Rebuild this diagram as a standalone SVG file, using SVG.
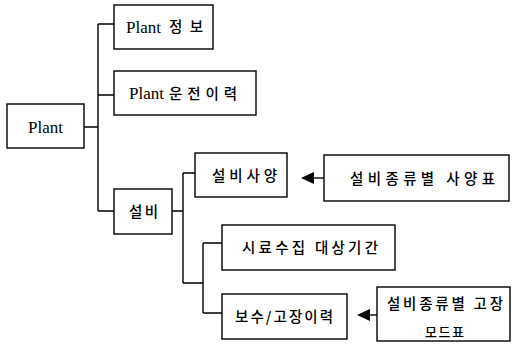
<svg xmlns="http://www.w3.org/2000/svg" width="512" height="351" viewBox="0 0 512 351">
  <style>
    .box { fill: #fff; stroke: #000; stroke-width: 1.4; }
    .wire { fill: none; stroke: #000; stroke-width: 1.4; }
    .lbl { font-family: "Liberation Serif", "Noto Sans CJK KR", serif; font-size: 17px; fill: #000; }
    .ko { font-family: "Noto Sans CJK KR", sans-serif; font-size: 14.5px; font-weight: 500; fill: #000; }
    .sm { font-size: 13px; }
  </style>
  <rect width="512" height="351" fill="#fff"/>

  <!-- tree connectors -->
  <g id="connectors">
    <path class="wire" d="M84 127 H98 M98 24 V211 M98 24 H114 M98 95 H114 M98 211 H114"/>
    <path class="wire" d="M172 211 H183 M183 173 V283 M183 173 H195 M183 283 H203"/>
    <path class="wire" d="M203 243 V313 M203 243 H222 M203 313 H222"/>
    <!-- feed arrows from the reference tables -->
    <path class="wire" d="M313 178 H324"/>
    <polygon points="301,178 314,172 314,184" fill="#000"/>
    <path class="wire" d="M369 315 H377"/>
    <polygon points="357,315 370,309 370,321" fill="#000"/>
  </g>

  <g id="plant">
    <rect class="box" x="7" y="104" width="77" height="44"/>
    <text class="lbl" x="28" y="133" textLength="35" lengthAdjust="spacingAndGlyphs">Plant</text>
  </g>

  <g id="plant-info">
    <rect class="box" x="114" y="5" width="99" height="44"/>
    <text class="lbl" x="126" y="33" textLength="35" lengthAdjust="spacingAndGlyphs">Plant</text>
    <text class="ko" x="169" y="32" textLength="34" lengthAdjust="spacing">정보</text>
  </g>

  <g id="plant-history">
    <rect class="box" x="114" y="71" width="142" height="44"/>
    <text class="lbl" x="129" y="99" textLength="35" lengthAdjust="spacingAndGlyphs">Plant</text>
    <text class="ko" x="169" y="99" textLength="68" lengthAdjust="spacing">운전이력</text>
  </g>

  <g id="equipment">
    <rect class="box" x="114" y="189" width="58" height="45"/>
    <text class="ko" x="129" y="217" textLength="29" lengthAdjust="spacing">설비</text>
  </g>

  <g id="equipment-spec">
    <rect class="box" x="195" y="153" width="92" height="44"/>
    <text class="ko" x="212" y="181" textLength="65" lengthAdjust="spacing">설비사양</text>
  </g>

  <g id="spec-table">
    <rect class="box" x="324" y="155" width="185" height="46"/>
    <text class="ko" x="350" y="184" textLength="145" lengthAdjust="spacing">설비종류별 사양표</text>
  </g>

  <g id="sampling-period">
    <rect class="box" x="222" y="225" width="173" height="45"/>
    <text class="ko" x="242" y="253" textLength="136" lengthAdjust="spacing">시료수집 대상기간</text>
  </g>

  <g id="repair-history">
    <rect class="box" x="222" y="294" width="125" height="45"/>
    <text class="ko" x="235" y="322" textLength="98" lengthAdjust="spacing">보수/고장이력</text>
  </g>

  <g id="failure-mode-table">
    <rect class="box" x="377" y="287" width="133" height="54"/>
    <text class="ko" x="387" y="309" textLength="116" lengthAdjust="spacing">설비종류별 고장</text>
    <text class="ko sm" x="425" y="337" textLength="39" lengthAdjust="spacing">모드표</text>
  </g>
</svg>
